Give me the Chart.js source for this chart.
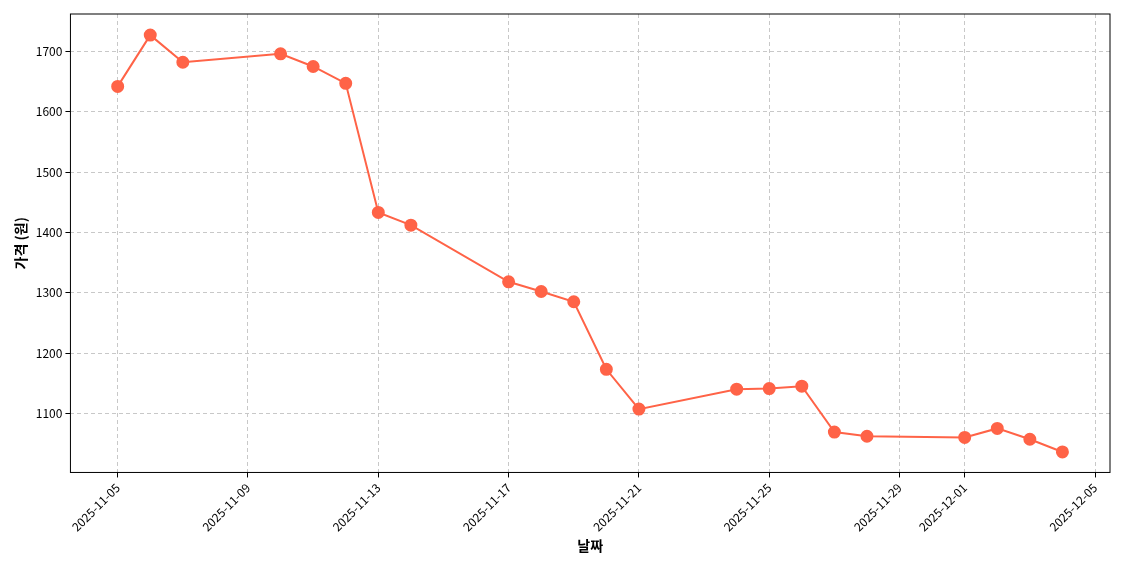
<!DOCTYPE html>
<html><head><meta charset="utf-8">
<script src="https://cdn.jsdelivr.net/npm/chart.js@4"></script>
<style>html,body{margin:0;padding:0;background:#fff}</style>
</head><body>
<div style="width:1140px;height:570px"><canvas id="c"></canvas></div>
<script>
// day offset from 2025-11-05
const days = [0,1,2,5,6,7,8,9,12,13,14,15,16,19,20,21,22,23,26,27,28,29];
const prices = [1642,1727,1682,1696,1675,1647,1433,1412,1318,1302,1285,1173,1107,1140,1141,1145,1069,1062,1060,1075,1057,1036];
const tickDays = [0,4,8,12,16,20,24,26,30];
const tickLabels = ['2025-11-05','2025-11-09','2025-11-13','2025-11-17','2025-11-21','2025-11-25','2025-11-29','2025-12-01','2025-12-05'];
const yTicks = [1100,1200,1300,1400,1500,1600,1700];

const font = "'Noto Sans CJK KR','Noto Sans',sans-serif";
Chart.defaults.font.family = font;
Chart.defaults.color = '#000';

const frame = {
  id: 'frame',
  afterDraw(chart) {
    const a = chart.chartArea, ctx = chart.ctx;
    ctx.save(); ctx.strokeStyle = '#000'; ctx.lineWidth = 1;
    ctx.strokeRect(a.left, a.top, a.right - a.left, a.bottom - a.top);
    ctx.restore();
  }
};

new Chart(document.getElementById('c'), {
  type: 'line',
  data: { datasets: [{
    data: days.map((d, i) => ({ x: d, y: prices[i] })),
    borderColor: '#ff6347', backgroundColor: '#ff6347',
    borderWidth: 2, pointRadius: 5.5, pointHoverRadius: 5.5, tension: 0
  }]},
  options: {
    responsive: true, maintainAspectRatio: false, animation: false,
    layout: { padding: { top: 14, right: 30, left: 8, bottom: 12 } },
    plugins: { legend: { display: false }, tooltip: { enabled: false } },
    scales: {
      x: {
        type: 'linear', min: -1.45, max: 30.46,
        afterBuildTicks: s => { s.ticks = tickDays.map(v => ({ value: v })); },
        ticks: { maxRotation: 45, minRotation: 45, font: { size: 12 },
          callback: v => tickLabels[tickDays.indexOf(v)] },
        grid: { color: '#c8c8c8', tickColor: '#000', tickLength: 5 },
        border: { display: false, dash: [4, 3] },
        title: { display: true, text: '날짜', font: { size: 14, weight: 'bold' }, padding: { top: 0 } }
      },
      y: {
        min: 1002, max: 1762,
        afterBuildTicks: s => { s.ticks = yTicks.map(v => ({ value: v })); },
        ticks: { font: { size: 12 }, callback: v => String(v) },
        grid: { color: '#c8c8c8', tickColor: '#000', tickLength: 5 },
        border: { display: false, dash: [4, 3] },
        title: { display: true, text: '가격 (원)', font: { size: 14, weight: 'bold' } }
      }
    }
  },
  plugins: [frame]
});
</script>
</body></html>
